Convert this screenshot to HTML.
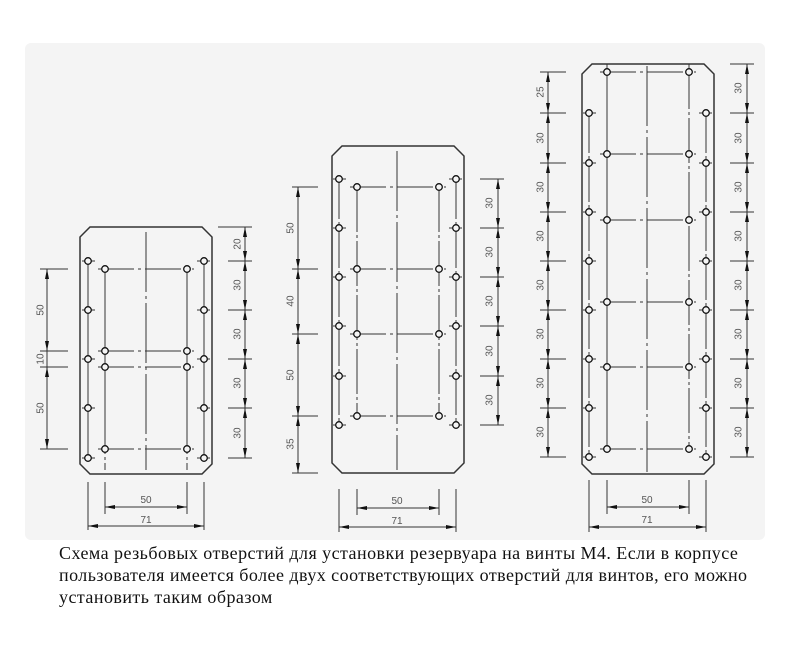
<!DOCTYPE html>
<html><head><meta charset="utf-8"><style>
html,body{margin:0;padding:0;background:#fff;width:790px;height:647px;overflow:hidden}
.panel{position:absolute;left:25px;top:43px;width:740px;height:497px;background:#f4f4f4;border-radius:6px}
svg{position:absolute;left:0;top:0}
.cap{position:absolute;left:59px;top:542px;width:705px;font-family:"Liberation Serif",serif;font-size:18px;letter-spacing:0.45px;line-height:22px;color:#111}
text{font-family:"Liberation Sans",sans-serif;font-size:10px;fill:#555}
</style></head><body>
<div class="panel"></div>
<svg width="790" height="647" viewBox="0 0 790 647">
<defs>
<marker id="a" viewBox="0 0 10 4" refX="10" refY="2" markerWidth="10" markerHeight="4" markerUnits="userSpaceOnUse" orient="auto-start-reverse"><path d="M0,0 L10,2 L0,4 Z" fill="#111"/></marker>
</defs>
<g stroke="#333" fill="none" stroke-width="1">
<!-- Plate 1 -->
<path d="M90,227 L202,227 L212,237 L212,464 L202,474 L90,474 L80,464 L80,237 Z" stroke-width="1.5"/>
<line x1="146" y1="232" x2="146" y2="470" stroke-dasharray="60 4 3 4"/>
<line x1="88" y1="261" x2="88" y2="458"/><line x1="204" y1="261" x2="204" y2="458"/>
<line x1="105" y1="269" x2="105" y2="470" stroke-dasharray="185 3 3 3"/><line x1="187" y1="269" x2="187" y2="470" stroke-dasharray="185 3 3 3"/>
<g stroke-dasharray="36 4 3 4"><line x1="98" y1="269" x2="194" y2="269"/><line x1="98" y1="351" x2="194" y2="351"/><line x1="98" y1="367" x2="194" y2="367"/><line x1="98" y1="449" x2="194" y2="449"/></g>
<g><line x1="82" y1="261" x2="95" y2="261"/><line x1="82" y1="310" x2="95" y2="310"/><line x1="82" y1="359" x2="95" y2="359"/><line x1="82" y1="408" x2="95" y2="408"/><line x1="82" y1="458" x2="95" y2="458"/>
<line x1="197" y1="261" x2="210" y2="261"/><line x1="197" y1="310" x2="210" y2="310"/><line x1="197" y1="359" x2="210" y2="359"/><line x1="197" y1="408" x2="210" y2="408"/><line x1="197" y1="458" x2="210" y2="458"/></g>
<g fill="#f4f4f4" stroke="#111" stroke-width="1.3"><circle cx="88" cy="261" r="3.3"/><circle cx="88" cy="310" r="3.3"/><circle cx="88" cy="359" r="3.3"/><circle cx="88" cy="408" r="3.3"/><circle cx="88" cy="458" r="3.3"/>
<circle cx="204" cy="261" r="3.3"/><circle cx="204" cy="310" r="3.3"/><circle cx="204" cy="359" r="3.3"/><circle cx="204" cy="408" r="3.3"/><circle cx="204" cy="458" r="3.3"/>
<circle cx="105" cy="269" r="3.3"/><circle cx="105" cy="351" r="3.3"/><circle cx="105" cy="367" r="3.3"/><circle cx="105" cy="449" r="3.3"/>
<circle cx="187" cy="269" r="3.3"/><circle cx="187" cy="351" r="3.3"/><circle cx="187" cy="367" r="3.3"/><circle cx="187" cy="449" r="3.3"/></g>
<line x1="40" y1="269" x2="68" y2="269"/><line x1="40" y1="351" x2="68" y2="351"/><line x1="40" y1="367" x2="68" y2="367"/><line x1="40" y1="449" x2="68" y2="449"/>
<g marker-start="url(#a)" marker-end="url(#a)"><line x1="47" y1="269" x2="47" y2="351"/><line x1="47" y1="367" x2="47" y2="449"/></g>
<line x1="47" y1="351" x2="47" y2="367"/>
<line x1="218" y1="227" x2="252" y2="227"/><line x1="228" y1="261" x2="252" y2="261"/><line x1="228" y1="310" x2="252" y2="310"/><line x1="228" y1="359" x2="252" y2="359"/><line x1="228" y1="408" x2="252" y2="408"/><line x1="228" y1="458" x2="252" y2="458"/>
<g marker-start="url(#a)" marker-end="url(#a)"><line x1="245" y1="227" x2="245" y2="261"/><line x1="245" y1="261" x2="245" y2="310"/><line x1="245" y1="310" x2="245" y2="359"/><line x1="245" y1="359" x2="245" y2="408"/><line x1="245" y1="408" x2="245" y2="458"/></g>
<line x1="88" y1="482" x2="88" y2="530"/><line x1="204" y1="482" x2="204" y2="530"/><line x1="105" y1="482" x2="105" y2="514"/><line x1="187" y1="482" x2="187" y2="514"/>
<g marker-start="url(#a)" marker-end="url(#a)"><line x1="105" y1="507" x2="187" y2="507"/><line x1="88" y1="526" x2="204" y2="526"/></g>

<!-- Plate 2 -->
<path d="M342,146 L454,146 L464,156 L464,463 L454,473 L342,473 L332,463 L332,156 Z" stroke-width="1.5"/>
<line x1="397" y1="151" x2="397" y2="470" stroke-dasharray="60 4 3 4"/>
<line x1="339" y1="179" x2="339" y2="425" stroke-dasharray="40 3 3 3"/><line x1="456" y1="179" x2="456" y2="425" stroke-dasharray="40 3 3 3"/>
<line x1="357" y1="187" x2="357" y2="416" stroke-dasharray="45 3 3 3"/><line x1="439" y1="187" x2="439" y2="416" stroke-dasharray="45 3 3 3"/>
<g stroke-dasharray="36 4 3 4"><line x1="350" y1="187" x2="446" y2="187"/><line x1="350" y1="269" x2="446" y2="269"/><line x1="350" y1="334" x2="446" y2="334"/><line x1="350" y1="416" x2="446" y2="416"/></g>
<g><line x1="333" y1="179" x2="346" y2="179"/><line x1="333" y1="228" x2="346" y2="228"/><line x1="333" y1="277" x2="346" y2="277"/><line x1="333" y1="326" x2="346" y2="326"/><line x1="333" y1="376" x2="346" y2="376"/><line x1="333" y1="425" x2="346" y2="425"/>
<line x1="449" y1="179" x2="462" y2="179"/><line x1="449" y1="228" x2="462" y2="228"/><line x1="449" y1="277" x2="462" y2="277"/><line x1="449" y1="326" x2="462" y2="326"/><line x1="449" y1="376" x2="462" y2="376"/><line x1="449" y1="425" x2="462" y2="425"/></g>
<g fill="#f4f4f4" stroke="#111" stroke-width="1.3"><circle cx="339" cy="179" r="3.3"/><circle cx="339" cy="228" r="3.3"/><circle cx="339" cy="277" r="3.3"/><circle cx="339" cy="326" r="3.3"/><circle cx="339" cy="376" r="3.3"/><circle cx="339" cy="425" r="3.3"/>
<circle cx="456" cy="179" r="3.3"/><circle cx="456" cy="228" r="3.3"/><circle cx="456" cy="277" r="3.3"/><circle cx="456" cy="326" r="3.3"/><circle cx="456" cy="376" r="3.3"/><circle cx="456" cy="425" r="3.3"/>
<circle cx="357" cy="187" r="3.3"/><circle cx="357" cy="269" r="3.3"/><circle cx="357" cy="334" r="3.3"/><circle cx="357" cy="416" r="3.3"/>
<circle cx="439" cy="187" r="3.3"/><circle cx="439" cy="269" r="3.3"/><circle cx="439" cy="334" r="3.3"/><circle cx="439" cy="416" r="3.3"/></g>
<line x1="292" y1="187" x2="318" y2="187"/><line x1="292" y1="269" x2="318" y2="269"/><line x1="292" y1="334" x2="318" y2="334"/><line x1="292" y1="416" x2="318" y2="416"/><line x1="292" y1="473" x2="318" y2="473"/>
<g marker-start="url(#a)" marker-end="url(#a)"><line x1="298" y1="187" x2="298" y2="269"/><line x1="298" y1="269" x2="298" y2="334"/><line x1="298" y1="334" x2="298" y2="416"/><line x1="298" y1="416" x2="298" y2="473"/></g>
<line x1="480" y1="179" x2="504" y2="179"/><line x1="480" y1="228" x2="504" y2="228"/><line x1="480" y1="277" x2="504" y2="277"/><line x1="480" y1="326" x2="504" y2="326"/><line x1="480" y1="376" x2="504" y2="376"/><line x1="480" y1="425" x2="504" y2="425"/>
<g marker-start="url(#a)" marker-end="url(#a)"><line x1="498" y1="179" x2="498" y2="228"/><line x1="498" y1="228" x2="498" y2="277"/><line x1="498" y1="277" x2="498" y2="326"/><line x1="498" y1="326" x2="498" y2="376"/><line x1="498" y1="376" x2="498" y2="425"/></g>
<line x1="339" y1="489" x2="339" y2="532"/><line x1="456" y1="489" x2="456" y2="532"/><line x1="357" y1="489" x2="357" y2="515"/><line x1="439" y1="489" x2="439" y2="515"/>
<g marker-start="url(#a)" marker-end="url(#a)"><line x1="357" y1="508" x2="439" y2="508"/><line x1="339" y1="527" x2="456" y2="527"/></g>

<!-- Plate 3 -->
<path d="M592,64 L704,64 L714,74 L714,464 L704,474 L592,474 L582,464 L582,74 Z" stroke-width="1.5"/>
<line x1="647" y1="66" x2="647" y2="472" stroke-dasharray="60 4 3 4"/>
<line x1="589" y1="113" x2="589" y2="457" stroke-dasharray="40 3 3 3"/><line x1="706" y1="113" x2="706" y2="457" stroke-dasharray="40 3 3 3"/>
<line x1="607" y1="64" x2="607" y2="449"/><line x1="689" y1="64" x2="689" y2="449" stroke-dasharray="45 3 3 3"/>
<g stroke-dasharray="36 4 3 4"><line x1="600" y1="72" x2="696" y2="72"/><line x1="600" y1="154" x2="696" y2="154"/><line x1="600" y1="220" x2="696" y2="220"/><line x1="600" y1="302" x2="696" y2="302"/><line x1="600" y1="367" x2="696" y2="367"/><line x1="600" y1="449" x2="696" y2="449"/></g>
<g><line x1="583" y1="113" x2="596" y2="113"/><line x1="583" y1="163" x2="596" y2="163"/><line x1="583" y1="212" x2="596" y2="212"/><line x1="583" y1="261" x2="596" y2="261"/><line x1="583" y1="310" x2="596" y2="310"/><line x1="583" y1="359" x2="596" y2="359"/><line x1="583" y1="408" x2="596" y2="408"/><line x1="583" y1="457" x2="596" y2="457"/>
<line x1="699" y1="113" x2="712" y2="113"/><line x1="699" y1="163" x2="712" y2="163"/><line x1="699" y1="212" x2="712" y2="212"/><line x1="699" y1="261" x2="712" y2="261"/><line x1="699" y1="310" x2="712" y2="310"/><line x1="699" y1="359" x2="712" y2="359"/><line x1="699" y1="408" x2="712" y2="408"/><line x1="699" y1="457" x2="712" y2="457"/></g>
<g fill="#f4f4f4" stroke="#111" stroke-width="1.3"><circle cx="589" cy="113" r="3.3"/><circle cx="589" cy="163" r="3.3"/><circle cx="589" cy="212" r="3.3"/><circle cx="589" cy="261" r="3.3"/><circle cx="589" cy="310" r="3.3"/><circle cx="589" cy="359" r="3.3"/><circle cx="589" cy="408" r="3.3"/><circle cx="589" cy="457" r="3.3"/>
<circle cx="706" cy="113" r="3.3"/><circle cx="706" cy="163" r="3.3"/><circle cx="706" cy="212" r="3.3"/><circle cx="706" cy="261" r="3.3"/><circle cx="706" cy="310" r="3.3"/><circle cx="706" cy="359" r="3.3"/><circle cx="706" cy="408" r="3.3"/><circle cx="706" cy="457" r="3.3"/>
<circle cx="607" cy="72" r="3.3"/><circle cx="607" cy="154" r="3.3"/><circle cx="607" cy="220" r="3.3"/><circle cx="607" cy="302" r="3.3"/><circle cx="607" cy="367" r="3.3"/><circle cx="607" cy="449" r="3.3"/>
<circle cx="689" cy="72" r="3.3"/><circle cx="689" cy="154" r="3.3"/><circle cx="689" cy="220" r="3.3"/><circle cx="689" cy="302" r="3.3"/><circle cx="689" cy="367" r="3.3"/><circle cx="689" cy="449" r="3.3"/></g>
<g><line x1="540" y1="72" x2="566" y2="72"/><line x1="540" y1="113" x2="566" y2="113"/><line x1="540" y1="163" x2="566" y2="163"/><line x1="540" y1="212" x2="566" y2="212"/><line x1="540" y1="261" x2="566" y2="261"/><line x1="540" y1="310" x2="566" y2="310"/><line x1="540" y1="359" x2="566" y2="359"/><line x1="540" y1="408" x2="566" y2="408"/><line x1="540" y1="457" x2="566" y2="457"/></g>
<g marker-start="url(#a)" marker-end="url(#a)"><line x1="548" y1="72" x2="548" y2="113"/><line x1="548" y1="113" x2="548" y2="163"/><line x1="548" y1="163" x2="548" y2="212"/><line x1="548" y1="212" x2="548" y2="261"/><line x1="548" y1="261" x2="548" y2="310"/><line x1="548" y1="310" x2="548" y2="359"/><line x1="548" y1="359" x2="548" y2="408"/><line x1="548" y1="408" x2="548" y2="457"/></g>
<g><line x1="730" y1="64" x2="754" y2="64"/><line x1="730" y1="113" x2="754" y2="113"/><line x1="730" y1="163" x2="754" y2="163"/><line x1="730" y1="212" x2="754" y2="212"/><line x1="730" y1="261" x2="754" y2="261"/><line x1="730" y1="310" x2="754" y2="310"/><line x1="730" y1="359" x2="754" y2="359"/><line x1="730" y1="408" x2="754" y2="408"/><line x1="730" y1="457" x2="754" y2="457"/></g>
<g marker-start="url(#a)" marker-end="url(#a)"><line x1="747" y1="64" x2="747" y2="113"/><line x1="747" y1="113" x2="747" y2="163"/><line x1="747" y1="163" x2="747" y2="212"/><line x1="747" y1="212" x2="747" y2="261"/><line x1="747" y1="261" x2="747" y2="310"/><line x1="747" y1="310" x2="747" y2="359"/><line x1="747" y1="359" x2="747" y2="408"/><line x1="747" y1="408" x2="747" y2="457"/></g>
<line x1="589" y1="480" x2="589" y2="532"/><line x1="706" y1="480" x2="706" y2="532"/><line x1="607" y1="480" x2="607" y2="514"/><line x1="689" y1="480" x2="689" y2="514"/>
<g marker-start="url(#a)" marker-end="url(#a)"><line x1="607" y1="507" x2="689" y2="507"/><line x1="589" y1="527" x2="706" y2="527"/></g>
</g>
<g text-anchor="middle">
<text x="40" y="310" transform="rotate(-90 40 310)" dy="3.5">50</text>
<text x="40" y="359" transform="rotate(-90 40 359)" dy="3.5">10</text>
<text x="40" y="408" transform="rotate(-90 40 408)" dy="3.5">50</text>
<text x="237" y="244" transform="rotate(-90 237 244)" dy="3.5">20</text>
<text x="237" y="285" transform="rotate(-90 237 285)" dy="3.5">30</text>
<text x="237" y="334" transform="rotate(-90 237 334)" dy="3.5">30</text>
<text x="237" y="383" transform="rotate(-90 237 383)" dy="3.5">30</text>
<text x="237" y="433" transform="rotate(-90 237 433)" dy="3.5">30</text>
<text x="146" y="503">50</text><text x="146" y="523">71</text>
<text x="290" y="228" transform="rotate(-90 290 228)" dy="3.5">50</text>
<text x="290" y="301" transform="rotate(-90 290 301)" dy="3.5">40</text>
<text x="290" y="375" transform="rotate(-90 290 375)" dy="3.5">50</text>
<text x="290" y="444" transform="rotate(-90 290 444)" dy="3.5">35</text>
<text x="489" y="203" transform="rotate(-90 489 203)" dy="3.5">30</text>
<text x="489" y="252" transform="rotate(-90 489 252)" dy="3.5">30</text>
<text x="489" y="301" transform="rotate(-90 489 301)" dy="3.5">30</text>
<text x="489" y="351" transform="rotate(-90 489 351)" dy="3.5">30</text>
<text x="489" y="400" transform="rotate(-90 489 400)" dy="3.5">30</text>
<text x="397" y="504">50</text><text x="397" y="524">71</text>
<text x="540" y="92" transform="rotate(-90 540 92)" dy="3.5">25</text>
<text x="540" y="138" transform="rotate(-90 540 138)" dy="3.5">30</text>
<text x="540" y="187" transform="rotate(-90 540 187)" dy="3.5">30</text>
<text x="540" y="236" transform="rotate(-90 540 236)" dy="3.5">30</text>
<text x="540" y="285" transform="rotate(-90 540 285)" dy="3.5">30</text>
<text x="540" y="334" transform="rotate(-90 540 334)" dy="3.5">30</text>
<text x="540" y="383" transform="rotate(-90 540 383)" dy="3.5">30</text>
<text x="540" y="432" transform="rotate(-90 540 432)" dy="3.5">30</text>
<text x="738" y="88" transform="rotate(-90 738 88)" dy="3.5">30</text>
<text x="738" y="138" transform="rotate(-90 738 138)" dy="3.5">30</text>
<text x="738" y="187" transform="rotate(-90 738 187)" dy="3.5">30</text>
<text x="738" y="236" transform="rotate(-90 738 236)" dy="3.5">30</text>
<text x="738" y="285" transform="rotate(-90 738 285)" dy="3.5">30</text>
<text x="738" y="334" transform="rotate(-90 738 334)" dy="3.5">30</text>
<text x="738" y="383" transform="rotate(-90 738 383)" dy="3.5">30</text>
<text x="738" y="432" transform="rotate(-90 738 432)" dy="3.5">30</text>
<text x="647" y="503">50</text><text x="647" y="523">71</text>
</g>
</svg>
<div class="cap">Схема резьбовых отверстий для установки резервуара на винты M4. Если в корпусе пользователя имеется более двух соответствующих отверстий для винтов, его можно установить таким образом</div>
</body></html>
